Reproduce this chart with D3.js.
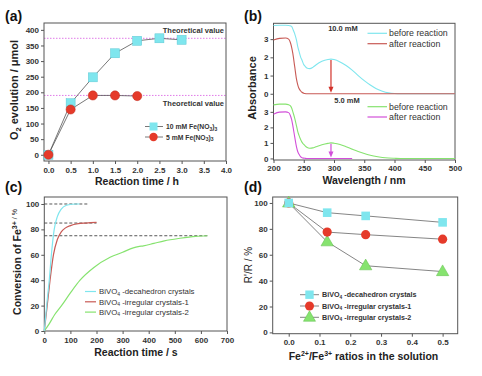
<!DOCTYPE html>
<html>
<head>
<meta charset="utf-8">
<script src="https://cdn.jsdelivr.net/npm/d3@7"></script>
<style>
  body { margin: 0; background: #fff; }
  svg { font-family: "Liberation Sans", Arial, sans-serif; }
  .tick text { fill: #333; font-weight: bold; }
  .tick line, .domain { stroke: #555; }
</style>
</head>
<body>
<svg width="482" height="376"></svg>
<script>
// (a) O2 evolution
var timeA = [0, 0.5, 1, 1.5, 2, 2.5, 3];
var o2Ten = [0, 165, 248, 325, 365, 373, 368];
var o2Five = [0, 145, 190, 190, 188];
var theoretical = [373, 190];

// (b) UV-vis spectra
var wl = [200, 210, 220, 225, 228, 230, 232, 235, 238, 240, 242, 245, 247, 250, 252, 255, 260, 265, 270, 280, 290, 295, 300, 310, 320, 330, 340, 350, 360, 370, 380, 390, 400, 410, 450, 500];
var before10 = [3.75, 3.76, 3.76, 3.75, 3.73, 3.7, 3.55, 3.3, 2.95, 2.6, 2.35, 2.0, 1.85, 1.6, 1.52, 1.42, 1.38, 1.45, 1.58, 1.78, 1.88, 1.9, 1.88, 1.75, 1.55, 1.3, 1.0, 0.72, 0.48, 0.28, 0.14, 0.05, 0.01, 0, 0, 0];
var after10 = [2.95, 3.04, 3.06, 3.0, 2.8, 2.55, 2.2, 1.5, 0.8, 0.5, 0.3, 0.15, 0.08, 0.03, 0.01, 0, 0, 0, 0, 0, 0, 0, 0, 0, 0, 0, 0, 0, 0, 0, 0, 0, 0, 0, 0, 0];
var before5 = [3.45, 3.5, 3.5, 3.45, 3.38, 3.25, 3.0, 2.6, 2.1, 1.75, 1.5, 1.2, 1.05, 0.9, 0.82, 0.72, 0.66, 0.68, 0.75, 0.88, 0.97, 1.0, 0.98, 0.9, 0.76, 0.6, 0.45, 0.32, 0.21, 0.12, 0.06, 0.025, 0.01, 0, 0, 0];
var after5 = [2.85, 2.98, 3.0, 2.95, 2.75, 2.5, 2.1, 1.4, 0.75, 0.45, 0.28, 0.1, 0.05, 0.02, 0.01, 0, 0, 0, 0, 0, 0, 0, 0, 0, 0, 0];
var arrowAt = 295;

// (c) conversion of Fe3+
var tDeca = [0, 10, 19, 28, 38, 50, 65, 85, 105, 125, 135];
var convDeca = [0, 22, 40, 62, 80, 90, 96, 99, 99.8, 100, 100];
var tIrr1 = [0, 10, 22, 35, 50, 65, 80, 100, 130, 160, 200];
var convIrr1 = [0, 18, 40, 60, 72, 78, 81, 83, 84.5, 85, 85.5];
var tIrr2 = [0, 20, 40, 66, 100, 137, 190, 252, 300, 341, 360, 380, 420, 460, 520, 580, 625];
var convIrr2 = [0, 6, 13, 20, 30, 40, 50, 58, 62, 65.5, 66.5, 67, 69, 71, 73, 74.5, 75];
var plateaus = [{ v: 100, end: 165 }, { v: 85, end: 200 }, { v: 75, end: 630 }];

// (d) R'/R
var ratio = [0, 0.125, 0.25, 0.5];
var rDeca = [100, 92.5, 90, 85];
var rIrr1 = [100, 77.5, 75.5, 72];
var rIrr2 = [100, 70, 51.5, 47];

var cyan = "#7fe6ee", red = "#e53a2a", green = "#86e36f", magenta = "#d24fd9", darkred = "#c85a55";

var svg = d3.select("svg");

function frame(g, x, y) {
  var r = x.range(), s = y.range();
  g.append("rect")
    .attr("x", r[0]).attr("y", s[1])
    .attr("width", r[1] - r[0]).attr("height", s[0] - s[1])
    .attr("fill", "none").attr("stroke", "#555").attr("stroke-width", 1);
}

function axes(g, x, y, xt, yt, xfmt, yfmt) {
  g.append("g")
    .attr("transform", "translate(0," + y.range()[0] + ")")
    .call(d3.axisBottom(x).tickValues(xt).tickSize(3).tickPadding(3).tickFormat(xfmt))
    .call(function(a) { a.select(".domain").remove(); })
    .selectAll("text").style("font-size", "8px");
  g.append("g")
    .attr("transform", "translate(" + x.range()[0] + ",0)")
    .call(d3.axisLeft(y).tickValues(yt).tickSize(3).tickPadding(2).tickFormat(yfmt))
    .call(function(a) { a.select(".domain").remove(); })
    .selectAll("text").style("font-size", "8px");
}

function title(text, x, y, size, rot) {
  var t = svg.append("text")
    .attr("text-anchor", "middle")
    .attr("font-weight", "bold")
    .attr("font-size", size)
    .attr("fill", "#222");
  if (rot) t.attr("transform", "translate(" + x + "," + y + ") rotate(-90)");
  else t.attr("x", x).attr("y", y);
  return t;
}

// panel labels
[["(a)", 5, 21], ["(b)", 244, 21], ["(c)", 5, 192], ["(d)", 244, 192]].forEach(function(p) {
  svg.append("text").attr("x", p[1]).attr("y", p[2]).text(p[0])
    .attr("font-size", 14).attr("font-weight", "bold").attr("fill", "#111");
});

// ---------- (a)
var xa = d3.scaleLinear().domain([-0.1, 4.0]).range([44, 226]);
var ya = d3.scaleLinear().domain([-20, 422]).range([161, 23]);
var ga = svg.append("g");
theoretical.forEach(function(v) {
  ga.append("line").attr("x1", xa.range()[0]).attr("x2", xa.range()[1])
    .attr("y1", ya(v)).attr("y2", ya(v))
    .attr("stroke", "#e07be8").attr("stroke-width", 1).attr("stroke-dasharray", "1.5,1.5");
});
ga.append("text").attr("x", 224).attr("y", ya(theoretical[0]) - 5).attr("text-anchor", "end")
  .attr("font-size", 7.5).attr("font-weight", "bold").attr("fill", "#333").text("Theoretical value");
ga.append("text").attr("x", 224).attr("y", ya(theoretical[1]) + 11).attr("text-anchor", "end")
  .attr("font-size", 7.5).attr("font-weight", "bold").attr("fill", "#333").text("Theoretical value");
frame(ga, xa, ya);
axes(ga, xa, ya, d3.range(0, 4.01, 0.5), d3.range(0, 401, 50), d3.format(".1f"), d3.format("d"));

var lineA = d3.line().x(function(d) { return xa(d[0]); }).y(function(d) { return ya(d[1]); });
var tenPts = timeA.map(function(t, i) { return [t, o2Ten[i]]; });
var fivePts = timeA.slice(0, o2Five.length).map(function(t, i) { return [t, o2Five[i]]; });
ga.append("path").attr("d", lineA(tenPts)).attr("fill", "none").attr("stroke", "#555").attr("stroke-width", 0.8);
ga.append("path").attr("d", lineA(fivePts)).attr("fill", "none").attr("stroke", "#555").attr("stroke-width", 0.8);
ga.selectAll(".sq").data(tenPts).enter().append("rect")
  .attr("x", function(d) { return xa(d[0]) - 4.5; }).attr("y", function(d) { return ya(d[1]) - 4.5; })
  .attr("width", 9).attr("height", 9).attr("fill", cyan).attr("stroke", "#5cc8d4").attr("stroke-width", 0.5);
ga.selectAll(".ci").data(fivePts).enter().append("circle")
  .attr("cx", function(d) { return xa(d[0]); }).attr("cy", function(d) { return ya(d[1]); })
  .attr("r", 4.6).attr("fill", red).attr("stroke", "#c02a1e").attr("stroke-width", 0.5);

// legend (a)
function legA(y, kind, label) {
  ga.append("line").attr("x1", 145).attr("x2", 163).attr("y1", y).attr("y2", y)
    .attr("stroke", "#555").attr("stroke-width", 0.8);
  if (kind === "sq") ga.append("rect").attr("x", 149.5).attr("y", y - 4).attr("width", 8).attr("height", 8).attr("fill", cyan);
  else ga.append("circle").attr("cx", 153.5).attr("cy", y).attr("r", 4.2).attr("fill", red);
  var t = ga.append("text").attr("x", 166).attr("y", y + 2.5).attr("font-size", 6.8).attr("font-weight", "bold").attr("fill", "#333");
  t.append("tspan").text(label + " Fe(NO");
  t.append("tspan").attr("font-size", 5).attr("dy", 1.5).text("3");
  t.append("tspan").attr("dy", -1.5).text(")");
  t.append("tspan").attr("font-size", 5).attr("dy", 1.5).text("3");
}
legA(126.5, "sq", "10 mM");
legA(137, "ci", "5 mM");

var ta = title("", 18, 90, 11, true);
ta.append("tspan").text("O");
ta.append("tspan").attr("font-size", 7.5).attr("dy", 3).text("2");
ta.append("tspan").attr("dy", -3).text(" evolution / \u03bcmol");
title("Reaction time / h", 137, 185, 10.5).text("Reaction time / h");

// ---------- (b)
var xb = d3.scaleLinear().domain([200, 500]).range([273.5, 455]);
var ybTop = d3.scaleLinear().domain([-0.03, 3.87]).range([94.3, 23.3]);
var ybBot = d3.scaleLinear().domain([-0.1, 4.13]).range([160, 94.3]);
var gb = svg.append("g");
gb.append("rect").attr("x", 273.5).attr("y", 23.3).attr("width", 455 - 273.5).attr("height", 160 - 23.3)
  .attr("fill", "none").attr("stroke", "#555");
[ybTop, ybBot].forEach(function(yS) {
  gb.append("g").attr("transform", "translate(273.5,0)")
    .call(d3.axisLeft(yS).tickValues([0, 1, 2, 3]).tickSize(3).tickPadding(2).tickFormat(d3.format("d")))
    .call(function(a) { a.select(".domain").remove(); })
    .selectAll("text").style("font-size", "8px");
});
gb.append("g").attr("transform", "translate(0,160)")
  .call(d3.axisBottom(xb).tickValues(d3.range(200, 501, 50)).tickSize(3).tickPadding(2))
  .call(function(a) { a.select(".domain").remove(); })
  .selectAll("text").style("font-size", "8px");

function spec(yS, vals, color) {
  var pts = wl.slice(0, vals.length).map(function(w, i) { return [w, vals[i]]; });
  gb.append("path")
    .attr("d", d3.line().curve(d3.curveMonotoneX).x(function(d) { return xb(d[0]); }).y(function(d) { return yS(d[1]); })(pts))
    .attr("fill", "none").attr("stroke", color).attr("stroke-width", 1.1);
}
spec(ybTop, before10, cyan);
spec(ybTop, after10, darkred);
spec(ybBot, before5, green);
spec(ybBot, after5, magenta);

function arrow(yS, from, color) {
  var x = xb(arrowAt), y1 = yS(from), y2 = yS(0) - 1;
  gb.append("line").attr("x1", x).attr("x2", x).attr("y1", y1).attr("y2", y2 - 4)
    .attr("stroke", color).attr("stroke-width", 1.2);
  gb.append("path").attr("d", "M" + (x - 2.5) + "," + (y2 - 6) + "L" + (x + 2.5) + "," + (y2 - 6) + "L" + x + "," + y2 + "Z")
    .attr("fill", color);
}
arrow(ybTop, before10[wl.indexOf(arrowAt)] - 0.05, "#d2322a");
arrow(ybBot, before5[wl.indexOf(arrowAt)] - 0.05, magenta);

gb.append("text").attr("x", 343).attr("y", 31).attr("text-anchor", "middle").attr("font-size", 7.5)
  .attr("font-weight", "bold").attr("fill", "#333").text("10.0 mM");
gb.append("text").attr("x", 347).attr("y", 102.5).attr("text-anchor", "middle").attr("font-size", 7.5)
  .attr("font-weight", "bold").attr("fill", "#333").text("5.0 mM");

function legB(y, color, label) {
  gb.append("line").attr("x1", 367.5).attr("x2", 387).attr("y1", y).attr("y2", y).attr("stroke", color).attr("stroke-width", 1.2);
  gb.append("text").attr("x", 389).attr("y", y + 3).attr("font-size", 8.8).attr("fill", "#333").text(label);
}
legB(33.3, cyan, "before reaction");
legB(43.7, darkred, "after reaction");
legB(106.7, green, "before reaction");
legB(117, magenta, "after reaction");

title("Absorbance", 256, 88, 11, true).text("Absorbance");
title("Wavelength / nm", 364, 183.5, 10.5).text("Wavelength / nm");

// ---------- (c)
var xc = d3.scaleLinear().domain([0, 700]).range([44.3, 227]);
var yc = d3.scaleLinear().domain([0, 105.5]).range([331, 197]);
var gc = svg.append("g");
frame(gc, xc, yc);
axes(gc, xc, yc, d3.range(0, 701, 100), d3.range(0, 101, 20), d3.format("d"), d3.format("d"));
plateaus.forEach(function(p) {
  gc.append("line").attr("x1", xc(0)).attr("x2", xc(p.end)).attr("y1", yc(p.v)).attr("y2", yc(p.v))
    .attr("stroke", "#444").attr("stroke-width", 0.9).attr("stroke-dasharray", "3,2");
});
var lineC = d3.line().curve(d3.curveMonotoneX).x(function(d) { return xc(d[0]); }).y(function(d) { return yc(d[1]); });
[[tIrr2, convIrr2, green], [tIrr1, convIrr1, darkred], [tDeca, convDeca, cyan]].forEach(function(s) {
  gc.append("path").attr("d", lineC(s[0].map(function(t, i) { return [t, s[1][i]]; })))
    .attr("fill", "none").attr("stroke", s[2]).attr("stroke-width", 1.2);
});
var namesC = ["-decahedron crystals", "-irregular crystals-1", "-irregular crystals-2"];
[cyan, darkred, green].forEach(function(c, i) {
  var y = 291.5 + i * 10.3;
  gc.append("line").attr("x1", 85).attr("x2", 96).attr("y1", y).attr("y2", y).attr("stroke", c).attr("stroke-width", 1.2);
  var t = gc.append("text").attr("x", 99).attr("y", y + 2.8).attr("font-size", 7.8).attr("fill", "#333");
  t.append("tspan").text("BiVO");
  t.append("tspan").attr("font-size", 5).attr("dy", 1.5).text("4");
  t.append("tspan").attr("dy", -1.5).text(" " + namesC[i]);
});
var tc = title("", 21, 262, 10.5, true);
tc.append("tspan").text("Conversion of Fe");
tc.append("tspan").attr("font-size", 7).attr("dy", -4).text("3+");
tc.append("tspan").attr("font-size", 7).attr("font-weight", "normal").attr("dy", 0).text(" / %");
title("Reaction time / s", 136, 356, 10.5).text("Reaction time / s");

// ---------- (d)
var xd = d3.scaleLinear().domain([-0.052, 0.549]).range([272.7, 457.7]);
var yd = d3.scaleLinear().domain([-1, 104.6]).range([333.7, 197]);
var gd = svg.append("g");
frame(gd, xd, yd);
axes(gd, xd, yd, d3.range(0, 0.51, 0.1), d3.range(0, 101, 20), d3.format(".1f"), d3.format("d"));
var lineD = d3.line().x(function(d) { return xd(d[0]); }).y(function(d) { return yd(d[1]); });
var seriesD = [[rIrr2, green, "tri"], [rIrr1, red, "ci"], [rDeca, cyan, "sq"]];
seriesD.forEach(function(s) {
  gd.append("path").attr("d", lineD(ratio.map(function(r, i) { return [r, s[0][i]]; })))
    .attr("fill", "none").attr("stroke", "#666").attr("stroke-width", 0.8);
});
function marker(g, kind, x, y, size) {
  if (kind === "sq") return g.append("rect").attr("x", x - size).attr("y", y - size).attr("width", 2 * size).attr("height", 2 * size).attr("fill", cyan);
  if (kind === "ci") return g.append("circle").attr("cx", x).attr("cy", y).attr("r", size + 0.3).attr("fill", red);
  return g.append("path").attr("d", d3.symbol().type(d3.symbolTriangle).size(size * size * 3.6)()).attr("transform", "translate(" + x + "," + (y + 0.5) + ")").attr("fill", green).attr("stroke", "#5fbf4a").attr("stroke-width", 0.5);
}
seriesD.forEach(function(s) {
  ratio.forEach(function(r, i) { marker(gd, s[2], xd(r), yd(s[0][i]), 4.3); });
});
[["sq", "-decahedron crystals"], ["ci", "-irregular crystals-1"], ["tri", "-irregular crystals-2"]].forEach(function(l, i) {
  var y = 294.7 + i * 11.3;
  gd.append("line").attr("x1", 300).attr("x2", 319).attr("y1", y).attr("y2", y).attr("stroke", "#666").attr("stroke-width", 0.8);
  marker(gd, l[0], 309.5, y, 4.2);
  var t = gd.append("text").attr("x", 322).attr("y", y + 2.6).attr("font-size", 7.2).attr("font-weight", "bold").attr("fill", "#333");
  t.append("tspan").text("BiVO");
  t.append("tspan").attr("font-size", 4.8).attr("dy", 1.5).text("4");
  t.append("tspan").attr("dy", -1.5).text(" " + l[1]);
});
title("R'/R / %", 252, 265, 10, true).attr("font-weight", "normal").text("R'/R / %");
var td = title("", 363.5, 360, 10.5);
td.append("tspan").text("Fe");
td.append("tspan").attr("font-size", 7).attr("dy", -4).text("2+");
td.append("tspan").attr("dy", 4).text("/Fe");
td.append("tspan").attr("font-size", 7).attr("dy", -4).text("3+");
td.append("tspan").attr("dy", 4).text(" ratios in the solution");
</script>
</body>
</html>
